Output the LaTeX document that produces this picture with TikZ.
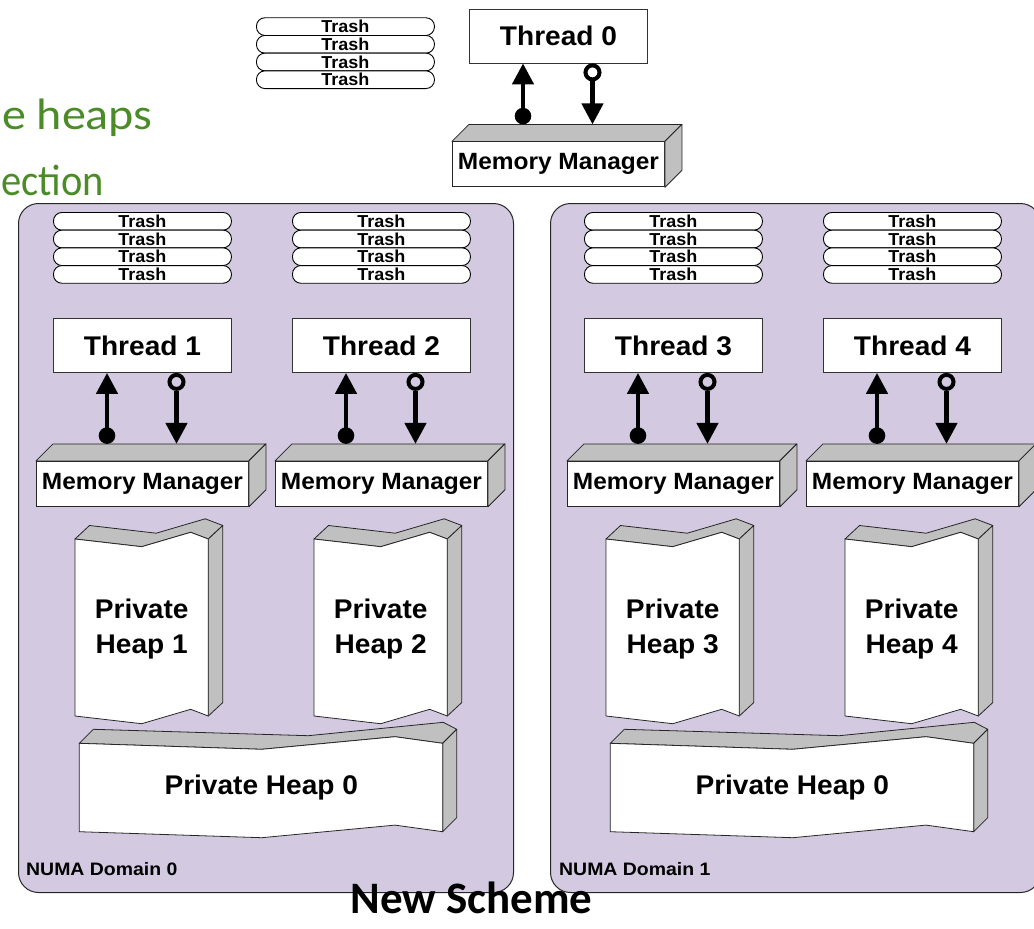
\documentclass[tikz,border=0pt]{standalone}
\usepackage{fontspec}
\usepackage{graphicx}
\setmainfont{Liberation Sans}
\newfontfamily\calib{Carlito}
\usetikzlibrary{arrows.meta,calc}
\definecolor{numa}{RGB}{211,201,224}
\definecolor{side}{RGB}{192,192,192}
\definecolor{slidegreen}{RGB}{76,140,40}
\newcommand\sx[2][1.04]{\scalebox{#1}[1]{#2}}
\tikzset{
  domainbox/.style={draw=black!85, line width=1pt, fill=numa, rounded corners=20pt,
    anchor=north west, minimum height=689pt, inner sep=0pt},
  pill/.style={draw=black, line width=0.9pt, fill=white, rounded corners=8.5pt,
    minimum width=178pt, minimum height=17.7pt, inner sep=0pt, anchor=north west,
    font=\fontsize{17.3}{17.3}\selectfont\bfseries},
  threadbox/.style={draw=black!80, line width=0.9pt, fill=white, minimum width=178pt,
    minimum height=54pt, inner sep=0pt, anchor=north west,
    font=\fontsize{27}{27}\selectfont\bfseries},
  mmfront/.style={draw=black!85, line width=0.9pt, fill=white, minimum width=212pt,
    minimum height=45pt, inner sep=0pt, anchor=north west,
    font=\fontsize{23.5}{23.5}\selectfont\bfseries},
  face/.style={draw=black!85, line width=0.8pt, fill=side, line join=round},
  front/.style={draw=black!85, line width=0.8pt, fill=white, line join=round},
  heaptext/.style={align=center, font=\fontsize{27}{35}\selectfont\bfseries, inner sep=0pt},
  arrowline/.style={line width=4.5pt, -{Triangle[width=21pt,length=21pt]}},
  opencirc/.style={circle, draw, line width=4pt, minimum size=14pt, inner sep=0pt},
  numalabel/.style={anchor=base west, inner sep=0pt, font=\fontsize{18}{18}\selectfont\bfseries},
  greentext/.style={anchor=base west, inner sep=0pt, text=slidegreen,
    font=\calib\fontsize{44}{44}\selectfont},
}
% trash stack: #1 id, #2 x, #3 y
\newcommand\trashstack[3]{%
  \foreach \i in {0,...,3}{%
    \node[pill] (tr#1-\i) at (#2,#3+\i*17.7) {\sx{Trash}};
  }%
}
% thread + memory manager: #1 id, #2 left x, #3 top y, #4 gap
\newcommand\hcol[4]{%
  \node[threadbox] (t#1) at (#2,#3) {\sx{Thread #1}};
  \node[mmfront] (m#1) at ($(t#1.south west)+(-17,#4+17)$) {\sx{Memory Manager}};
  \draw[face] (m#1.north west) -- (m#1.north east) -- ++(17,-17)
     -- ($(m#1.north west)+(17,-17)$) -- cycle;
  \draw[face] (m#1.north east) -- (m#1.south east) -- ++(17,-17)
     -- ($(m#1.north east)+(17,-17)$) -- cycle;
  \coordinate (ud#1) at ($(t#1.south west)+(54,#4-8.3)$);
  \coordinate (dn#1) at ($(t#1.south west)+(123.5,#4)$);
  \node[opencirc] (oc#1) at ($(t#1.south west)+(123.5,9)$) {};
  \draw[arrowline] (ud#1) -- (ud#1 |- t#1.south);
  \draw[arrowline] (oc#1.south) -- (dn#1);
  \fill (ud#1) circle (8.3);
}
% private heap: #1 id, #2 x, #3 y
\newcommand\pheap[3]{%
  \begin{scope}[shift={(#2,#3)}]
    \draw[face] (0,0)--(66.7,7.7)--(115.7,-6.7)--(133.3,0)--(147.8,-13.5)
       --(130.2,-20.2)--(81.2,-5.8)--(14.5,-13.5)--cycle;
    \draw[face] (133.3,0)--(147.8,-13.5)--(147.8,163.5)--(133.3,177)--cycle;
    \draw[front] (0,0)--(66.7,7.7)--(115.7,-6.7)--(133.3,0)--(133.3,177)
       --(115.7,170.3)--(66.7,184.7)--(0,177)--cycle;
    \node[heaptext] (ph#1) at (66.7,90) {\sx{Private}\\\sx{Heap #1}};
  \end{scope}
}
% private heap 0: #1 id, #2 x, #3 y
\newcommand\pheapzero[3]{%
  \begin{scope}[shift={(#2,#3)}]
    \draw[face] (0,0)--(182.4,6)--(315.7,-6.6)--(363.4,0)--(377.4,-14)
       --(364,-21)--(229,-7.6)--(14,-14)--cycle;
    \draw[face] (363.4,0)--(377.4,-14)--(377.4,74.4)--(363.4,88.4)--cycle;
    \draw[front] (0,0)--(182.4,6)--(315.7,-6.6)--(363.4,0)--(363.4,88.4)
       --(315.7,81.8)--(182.4,94.4)--(0,88.4)--cycle;
    \node[heaptext] (pz#1) at (182,44) {\sx{Private Heap 0}};
  \end{scope}
}
\begin{document}
\begin{tikzpicture}[x=1pt,y=-1pt]
\useasboundingbox (0,0) rectangle (1034,929);
\fill[white] (0,0) rectangle (1034,929);
% slide text
\node[greentext] (g1) at (2,129) {\sx[1.09]{e heaps}};
\node[greentext] (g2) at (1,195) {\sx[0.92]{ection}};
% domains
\node[domainbox, minimum width=495pt] (d0) at (18,203) {};
\node[domainbox, minimum width=490pt] (d1) at (550,203) {};
\node[numalabel] (n0) at (26,875.7) {\sx[1.08]{NUMA Domain 0}};
\node[numalabel] (n1) at (559,875.7) {\sx[1.08]{NUMA Domain 1}};
% global thread
\trashstack{0}{256}{17.3}
\hcol{0}{469}{8.5}{61}
% domain threads
\trashstack{1}{53}{212}
\trashstack{2}{292}{212}
\trashstack{3}{584}{212}
\trashstack{4}{823}{212}
\hcol{1}{53}{318}{71}
\hcol{2}{292}{318}{71}
\hcol{3}{584}{318}{71}
\hcol{4}{823}{318}{71}
\pheap{1}{75}{539}
\pheap{2}{314}{539}
\pheap{3}{606}{539}
\pheap{4}{845}{539}
\pheapzero{a}{79.3}{743.3}
\pheapzero{b}{610.3}{743.3}
\node[anchor=base, inner sep=0pt, font=\calib\bfseries\fontsize{45}{45}\selectfont] (ns) at (471.5,913.3) {New Scheme};
\end{tikzpicture}
\end{document}
